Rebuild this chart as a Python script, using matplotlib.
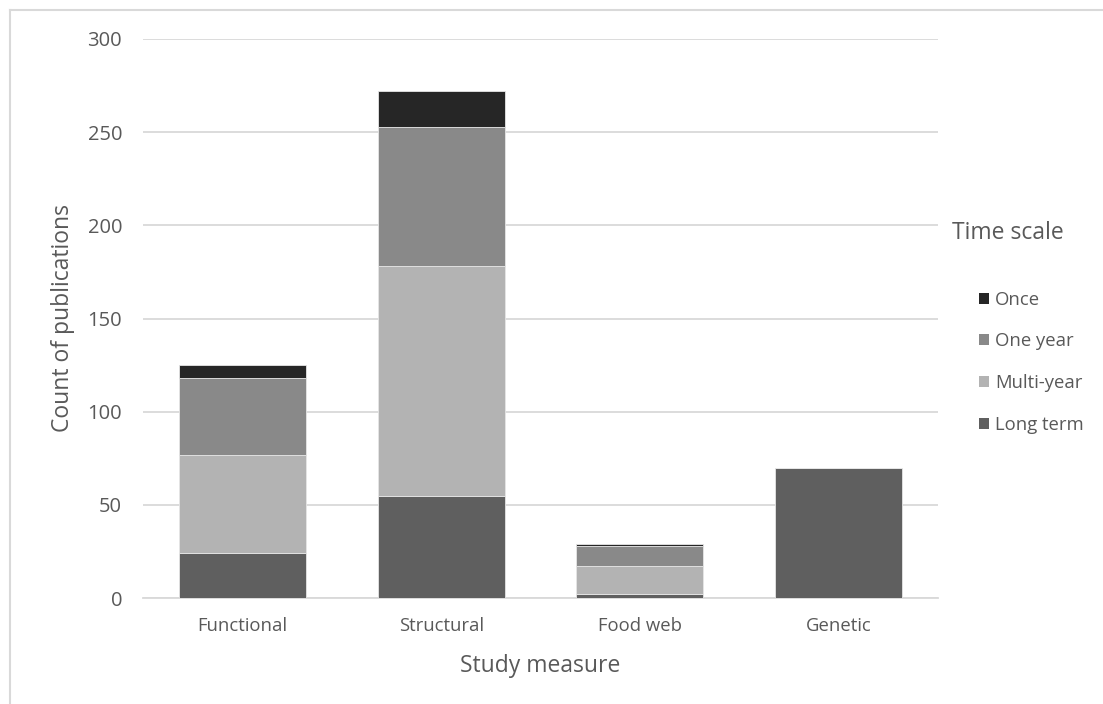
import matplotlib
matplotlib.use("Agg")
import matplotlib.pyplot as plt
from matplotlib.lines import Line2D
from matplotlib.patches import Patch

plt.rcParams['font.family'] = ['Open Sans', 'DejaVu Sans']

categories = ["Functional", "Structural", "Food web", "Genetic"]
series_names = ["Long term", "Multi-year", "One year", "Once"]
long_term = [24, 55, 2, 70]
multi_year = [53, 123, 15, 0]
one_year = [41, 75, 11, 0]
once = [7, 19, 1, 0]
series_values = [long_term, multi_year, one_year, once]
colors = ["#5f5f5f", "#b3b3b3", "#898989", "#262626"]

text_color = "#595959"
grid_color = "#d9d9d9"

fig = plt.figure(figsize=(11.03, 7.04), dpi=100)
ax = fig.add_axes([143 / 1103, 1 - 598 / 704, (938 - 143) / 1103, (598 - 39) / 704])

x = list(range(len(categories)))
bottoms = [0] * len(categories)
for name, vals, col in zip(series_names, series_values, colors):
    ax.bar(x, vals, width=0.64, bottom=bottoms, color=col,
           edgecolor="#e6e6e6", linewidth=0.6, label=name, zorder=3)
    bottoms = [b + v for b, v in zip(bottoms, vals)]

ax.set_xlim(-0.5, len(categories) - 0.5)
ax.set_ylim(0, 300)
ax.set_yticks(range(0, 301, 50))
ax.yaxis.grid(True, color=grid_color, linewidth=1.3, zorder=0)
ax.set_axisbelow(True)
for s in ["top", "right", "left"]:
    ax.spines[s].set_visible(False)
ax.spines["bottom"].set_color(grid_color)
ax.spines["bottom"].set_linewidth(1.3)
ax.tick_params(axis="both", length=0, colors=text_color)
ax.tick_params(axis="y", pad=15, labelsize=14.5)
ax.tick_params(axis="x", pad=14, labelsize=13.3)
ax.set_xticks(x)
ax.set_xticklabels(categories)

ax.set_xlabel("Study measure", fontsize=16.5, color=text_color, labelpad=13)
ax.set_ylabel("Count of publications", fontsize=16.5, color=text_color, labelpad=9)

# legend listed top-down from the topmost stack segment
handles = [Patch(facecolor=c, edgecolor="none") for c in colors][::-1]
labels = series_names[::-1]
leg = fig.legend(handles, labels, loc="upper left", bbox_to_anchor=(962 / 1103, 1 - 274 / 704),
                 frameon=False, fontsize=13.3, handlelength=0.55, handleheight=0.55,
                 handletextpad=0.35, labelspacing=1.29, labelcolor=text_color)
fig.text(952 / 1103, 1 - 233 / 704, "Time scale", fontsize=16.5, color=text_color, va="center")

# outer frame lines
fig.add_artist(Line2D([10 / 1103, 10 / 1103], [0, 1 - 10 / 704], color="#d9d9d9", linewidth=1.5,
                      transform=fig.transFigure))
fig.add_artist(Line2D([10 / 1103, 1], [1 - 10 / 704, 1 - 10 / 704], color="#d9d9d9", linewidth=1.5,
                      transform=fig.transFigure))

fig.savefig("out.png", dpi=100, facecolor="white")
